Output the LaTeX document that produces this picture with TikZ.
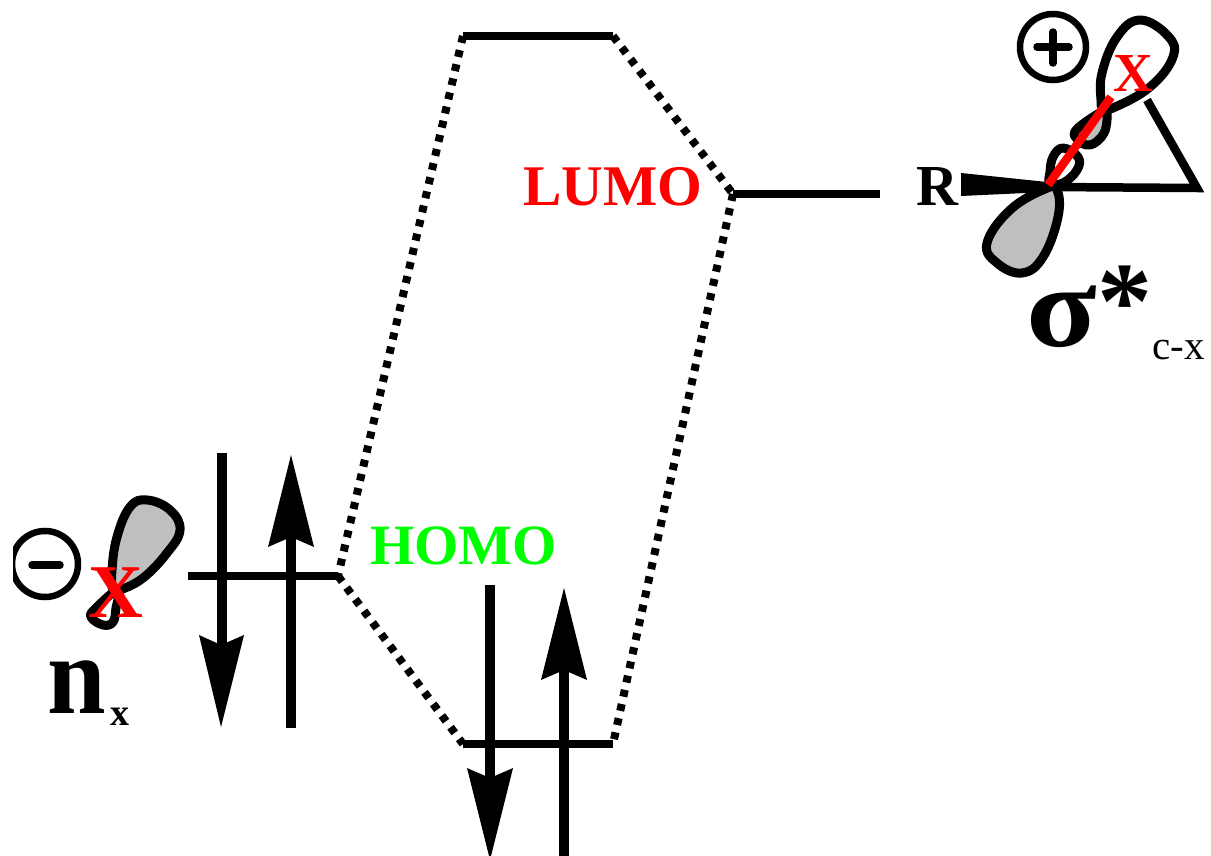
\documentclass[tikz,border=0pt]{standalone}
\usepackage{fontspec}
\setmainfont{Liberation Serif}
\newcommand{\fsz}[1]{\fontsize{#1}{#1}\selectfont}
\tikzset{
  level/.style={line width=8pt,line cap=butt},
  dots/.style={line width=8pt,dash pattern=on 7pt off 7.5pt},
  headtip/.style={fill=black,draw=none},
  shaft/.style={line width=10pt},
  lobe/.style={line width=9pt,draw=black,fill=#1,line join=round},
  sign/.style={circle,draw=black,line width=6.5pt,minimum size=66pt,inner sep=0pt},
  bar/.style={line width=7.5pt,line cap=round},
  txt/.style={inner sep=0pt,anchor=base west}
}
\definecolor{lobegray}{gray}{0.75}
\begin{document}
\begin{tikzpicture}[x=1pt,y=-1pt]
\useasboundingbox (0,0) rectangle (1211,856);
\clip (0,0) rectangle (1211,856);
% level ends
\coordinate (t1) at (463,36); \coordinate (t2) at (613,36);
\coordinate (l1) at (733,194); \coordinate (l2) at (880,194);
\coordinate (n1) at (188,576); \coordinate (n2) at (338,576);
\coordinate (h1) at (463,744); \coordinate (h2) at (613,744);
% dotted correlation lines
\draw[dots] (t1) -- (n2);
\draw[dots] (t2) -- (l1);
\draw[dots] (l1) -- (h2);
\draw[dots] (n2) -- (h1);
% levels
\draw[level] (t1) -- (t2);
\draw[level] (l1) -- (l2);
\draw[level] (n1) -- (n2);
\draw[level] (h1) -- (h2);
% electron arrows
\coordinate (a1s) at (222,453); \coordinate (a1e) at (222,645);
\coordinate (a2s) at (291,728); \coordinate (a2e) at (291,537);
\coordinate (a3s) at (490,585); \coordinate (a3e) at (490,778);
\coordinate (a4s) at (564,856); \coordinate (a4e) at (564,670);
\draw[shaft] (a1s) -- (a1e);
\fill[headtip] (199,635) -- (221,645) -- (244,635) -- (221,727) -- cycle;
\draw[shaft] (a2s) -- (a2e);
\fill[headtip] (268,547) -- (291,537) -- (314,547) -- (291,455) -- cycle;
\draw[shaft] (a3s) -- (a3e);
\fill[headtip] (467,768) -- (490,778) -- (513,768) -- (490,860) -- cycle;
\draw[shaft] (a4s) -- (a4e);
\fill[headtip] (541,680) -- (564,670) -- (587,680) -- (564,588) -- cycle;
% labels
\node[txt,text=red] (lumo) at (523,206) {\fsz{57.5}\bfseries LUMO};
\node[txt,text=green] (homo) at (370,564) {\fsz{57}\bfseries HOMO};
% n_x orbital
\draw[lobe=white] plot[smooth cycle,tension=0.7] coordinates {(118,590) (96,608) (91,617) (103,625) (113,622) (116,608)};
\draw[lobe=lobegray] plot[smooth cycle,tension=0.7] coordinates {(113,590) (112,570) (117,537) (130,507) (147,500) (170,510) (180,530) (167,553) (143,578) (120,590)};
\node[sign] (minus) at (45,564) {};
\draw[bar] (32,565) -- (60,565);
\fill[white] (0,0) rectangle (13,856);
\node[txt,text=red] (xn) at (88,617) {\fsz{76}\bfseries X};
\node[txt] (nn) at (47,713) {\fsz{112}\bfseries\scalebox{0.94}[1]{n}};
\node[txt] (nx) at (110,725) {\fsz{38}\bfseries x};
% sigma* fragment
\node[txt] (rr) at (916,206) {\fsz{58}\bfseries R};
\coordinate (c) at (1049,187);
\coordinate (ct) at (1147,100);
\draw[line width=8.5pt,miter limit=10] (c) -- (1197,188) -- (ct);
\draw[lobe=lobegray] plot[smooth cycle,tension=0.7] coordinates {(1045,189) (1010,210) (987,243) (997,263) (1022,273) (1043,257) (1058,217) (1057,190)};
\fill[black] (961,173) -- (1047,182) -- (1047,192) -- (961,196) -- cycle;
\draw[lobe=white] plot[smooth cycle,tension=0.7] coordinates {(1050,183) (1050,172) (1053,157) (1063,148) (1078,157) (1077,170) (1063,183)};
\draw[lobe=lobegray] plot[smooth cycle,tension=0.7] coordinates {(1103,111) (1077,129) (1077,139) (1090,145) (1104,133) (1107,113)};
\draw[lobe=white] plot[smooth cycle,tension=0.7] coordinates {(1101,100) (1102,73) (1117,37) (1140,20) (1168,36) (1173,57) (1150,87) (1113,108) (1103,108)};
\draw[red,line width=8.5pt] (1048,185) -- (1111,97);
\node[txt,text=red] (xs) at (1113,92) {\fsz{55}\bfseries X};
\node[sign] (plus) at (1053,47) {};
\draw[bar] (1037,47) -- (1069,47);
\draw[bar] (1053,32) -- (1053,63);
\node[txt] (sg) at (1026,346) {\fsz{104}\bfseries\scalebox{1.25}[1.12]{σ}};
\node[txt] (st) at (1097,338) {\fsz{110}\bfseries *};
\node[txt] (cx) at (1152,359) {\fsz{41}c-x};
\end{tikzpicture}
\end{document}
